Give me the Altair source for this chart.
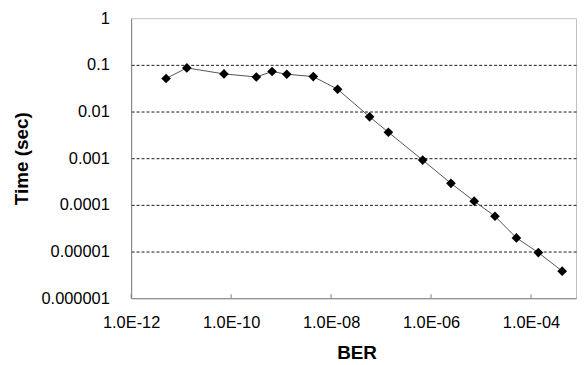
import altair as alt
import pandas as pd

ber = [5.0e-12, 1.3e-11, 7.2e-11, 3.2e-10, 6.6e-10, 1.3e-9, 4.4e-9, 1.35e-8,
       5.9e-8, 1.4e-7, 6.8e-7, 2.5e-6, 7.3e-6, 1.9e-5, 5.1e-5, 1.4e-4, 4.2e-4]
time_sec = [0.051, 0.086, 0.064, 0.055, 0.072, 0.063, 0.056, 0.030, 0.0077,
            0.0036, 0.00091, 0.00029, 0.00012, 0.000057, 0.0000196,
            0.0000095, 0.0000038]
x_ticks = [1e-12, 1e-10, 1e-8, 1e-6, 1e-4]
y_ticks = [1, 0.1, 0.01, 0.001, 0.0001, 0.00001, 0.000001]

df = pd.DataFrame({"ber": ber, "time": time_sec})
ticks_df = pd.DataFrame({"tick": x_ticks})

FONT = "Liberation Sans"
W, H = 448, 282

xscale = alt.Scale(type="log", domain=[1e-12, 10 ** -3.1], nice=False)
yscale = alt.Scale(type="log", domain=[1e-6, 1], nice=False)

x_enc = alt.X(
    "ber:Q",
    scale=xscale,
    axis=alt.Axis(
        values=x_ticks,
        labelExpr="'1.0E-' + (round(-log(datum.value)/LN10) < 10 ? '0' : '') + round(-log(datum.value)/LN10)",
        title="BER",
        grid=False,
        ticks=False,
        tickSize=0,
        domainColor="#808080",
        labelFontSize=16.5,
        labelColor="black",
        labelPadding=16,
        labelFlush=False,
        labelOverlap=False,
        labelFont=FONT,
        titleFont=FONT,
        titleFontSize=19,
        titleFontWeight="bold",
        titleColor="black",
        titlePadding=13,
        titleX=227,
    ),
)
y_enc = alt.Y(
    "time:Q",
    scale=yscale,
    axis=alt.Axis(
        values=y_ticks,
        format="~f",
        title="Time (sec)",
        grid=True,
        gridColor="black",
        gridDash=[3, 2],
        gridWidth=1,
        gridOpacity={"condition": {"test": "datum.value > 0.5 || datum.value < 2e-6", "value": 0}, "value": 0.9},
        ticks=False,
        tickSize=0,
        domainColor="#808080",
        labelFontSize=16.5,
        labelColor="black",
        labelPadding=22,
        labelFlush=False,
        labelOverlap=False,
        labelFont=FONT,
        titleFont=FONT,
        titleFontSize=19,
        titleFontWeight="bold",
        titleColor="black",
        titlePadding=10,
    ),
)

line = alt.Chart(df).mark_line(color="#555555", strokeWidth=1).encode(x=x_enc, y=y_enc)
pts = alt.Chart(df).mark_point(shape="diamond", filled=True, color="black", size=95, opacity=1).encode(x=x_enc, y=y_enc)
tick_marks = alt.Chart(ticks_df).mark_rule(color="#808080", strokeWidth=1).encode(
    x=alt.X("tick:Q", scale=xscale),
    y=alt.value(H - 4),
    y2=alt.value(H),
)

chart = alt.layer(line, tick_marks, pts).properties(
    width=W,
    height=H,
    autosize=alt.AutoSizeParams(type="none"),
    padding={"left": 124, "top": 9, "right": 2, "bottom": 66},
    background="white",
).configure_view(stroke="#c0c0c0", strokeWidth=1)

chart.save("out.html", embed_options={"renderer": "svg", "actions": False})
